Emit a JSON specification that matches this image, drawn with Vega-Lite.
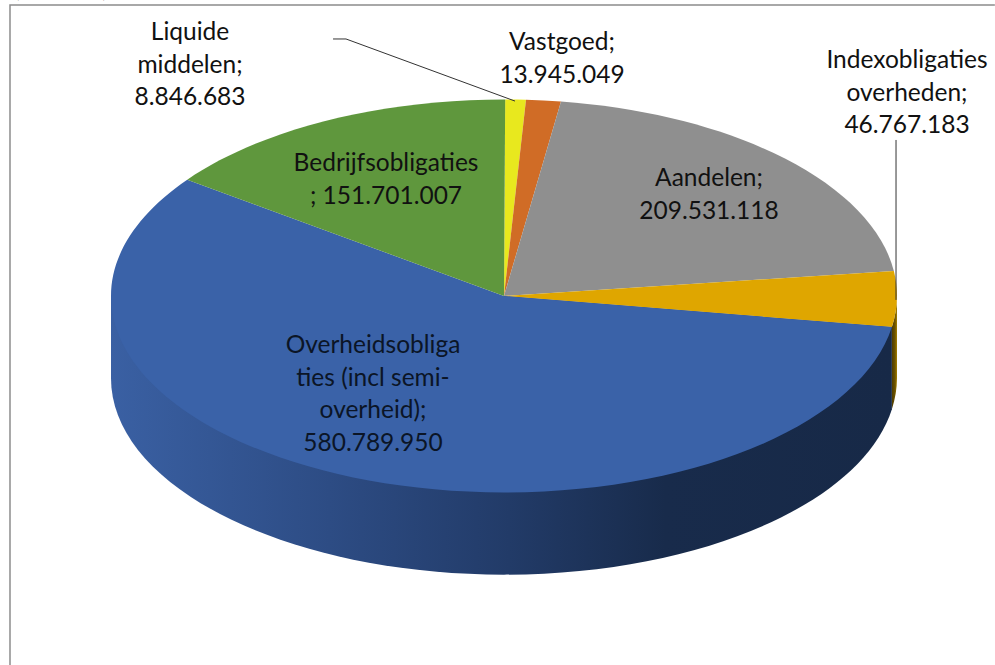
{
"$schema":"https://vega.github.io/schema/vega-lite/v6.json",
"width":786,"height":392,
"autosize":{"type":"none"},
"padding":{"left":111,"top":100,"right":98,"bottom":173},
"background":"white",
"view":{"stroke":null},
"data":{"values":[
{"categorie":"Liquide middelen","waarde":8846683,"label":"Liquide\nmiddelen;\n8.846.683"},
{"categorie":"Vastgoed","waarde":13945049,"label":"Vastgoed;\n13.945.049"},
{"categorie":"Aandelen","waarde":209531118,"label":"Aandelen;\n209.531.118"},
{"categorie":"Indexobligaties overheden","waarde":46767183,"label":"Indexobligaties\noverheden;\n46.767.183"},
{"categorie":"Overheidsobligaties (incl semi-overheid)","waarde":580789950,"label":"Overheidsobliga\nties (incl semi-\noverheid);\n580.789.950"},
{"categorie":"Bedrijfsobligaties","waarde":151701007,"label":"Bedrijfsobligaties\n; 151.701.007"}
]},
"layer":[
{"transform":[{"filter":"datum.categorie==='Liquide middelen'"}],
 "mark":{"type":"point","shape":"M-1.257 .939L-1.257 -.7405L1.249 -.7405","size":617796,"filled":false,"stroke":"#8c8c8c","strokeWidth":1.5,"opacity":1},"encoding":{}},
{"transform":[{"filter":"datum.categorie==='Liquide middelen'"}],
 "mark":{"type":"text","text":"(","font":"Lato","fontSize":24,"color":"#111111","align":"center","baseline":"alphabetic","dx":-487,"dy":-299},"encoding":{}},
{"transform":[{"filter":"datum.categorie==='Liquide middelen'"}],
 "mark":{"type":"text","text":")","font":"Lato","fontSize":24,"color":"#111111","align":"center","baseline":"alphabetic","dx":-399,"dy":-299},"encoding":{}},
{"transform":[{"filter":"datum.categorie==='Indexobligaties overheden'"}],
 "mark":{"type":"point","shape":"M1 0L1 .209A1 .5 0 0 1 .987 .288L.987 .0791A1 .5 0 0 0 1 0Z","size":617796,"filled":true,"strokeWidth":0,"opacity":1,
 "fill":{"gradient":"linear","x1":0,"y1":0,"x2":1,"y2":0,"stops":[{"offset":0,"color":"#4d3b00"},{"offset":0.6,"color":"#6b5200"},{"offset":1,"color":"#a58000"}]}},"encoding":{}},
{"transform":[{"filter":"datum.categorie==='Overheidsobligaties (incl semi-overheid)'"}],
 "mark":{"type":"point","shape":"M-1 0L-1 .209A1 .5 0 0 0 0 .709A1 .5 0 0 0 .987 .288L.987 .0791L0 0Z","size":617796,"filled":true,"strokeWidth":0,"opacity":1,
 "fill":{"gradient":"linear","x1":0,"y1":0,"x2":1,"y2":0,"stops":[{"offset":0,"color":"#3a60a3"},{"offset":0.28,"color":"#2d4c84"},{"offset":0.51,"color":"#223b68"},{"offset":0.71,"color":"#182b4b"},{"offset":1,"color":"#172947"}]}},"encoding":{}},
{"mark":{"type":"point","size":617796,"filled":true,"strokeWidth":0,"opacity":1},
 "encoding":{
  "shape":{"field":"categorie","type":"nominal","legend":null,"scale":{
    "domain":["Liquide middelen","Vastgoed","Aandelen","Indexobligaties overheden","Overheidsobligaties (incl semi-overheid)","Bedrijfsobligaties"],
    "range":["M0 0L.003 -.5A1 .5 0 0 1 .056 -.4992Z","M0 0L.056 -.4992A1 .5 0 0 1 .145 -.4947Z","M0 0L.145 -.4947A1 .5 0 0 1 .992 -.0638Z","M0 0L.992 -.0638A1 .5 0 0 1 .987 .0791Z","M0 0L.987 .0791A1 .5 0 0 1 0 .5A1 .5 0 0 1 -1 0A1 .5 0 0 1 -.806 -.296Z","M0 0L-.806 -.296A1 .5 0 0 1 .003 -.5Z"]}},
  "color":{"field":"categorie","type":"nominal","legend":null,"scale":{
    "domain":["Liquide middelen","Vastgoed","Aandelen","Indexobligaties overheden","Overheidsobligaties (incl semi-overheid)","Bedrijfsobligaties"],
    "range":["#e8e81e","#d06c26","#8f8f8f","#dfa600","#3a62a8","#5f973d"]}}
 }},
{"transform":[{"filter":"datum.categorie==='Liquide middelen'"}],
 "mark":{"type":"point","shape":"M-.435 -.654L-.402 -.654L.028 -.496","size":617796,"filled":false,"stroke":"#333333","strokeWidth":1,"opacity":1},"encoding":{}},
{"transform":[{"filter":"datum.categorie==='Indexobligaties overheden'"}],
 "mark":{"type":"point","shape":"M.9975 -.397L.9975 .01","size":617796,"filled":false,"stroke":"#333333","strokeWidth":1,"opacity":1},"encoding":{}},
{"transform":[{"filter":"datum.categorie==='Liquide middelen'"}],
 "mark":{"type":"text","font":"Lato","fontSize":24.5,"color":"#111111","lineBreak":"\n","lineHeight":32.5,"align":"center","baseline":"alphabetic","dx":-314,"dy":-256},"encoding":{"text":{"field":"label"}}},
{"transform":[{"filter":"datum.categorie==='Vastgoed'"}],
 "mark":{"type":"text","font":"Lato","fontSize":24.5,"color":"#111111","lineBreak":"\n","lineHeight":32.5,"align":"center","baseline":"alphabetic","dx":58,"dy":-246},"encoding":{"text":{"field":"label"}}},
{"transform":[{"filter":"datum.categorie==='Aandelen'"}],
 "mark":{"type":"text","font":"Lato","fontSize":24.5,"color":"#111111","lineBreak":"\n","lineHeight":32.5,"align":"center","baseline":"alphabetic","dx":205,"dy":-110},"encoding":{"text":{"field":"label"}}},
{"transform":[{"filter":"datum.categorie==='Indexobligaties overheden'"}],
 "mark":{"type":"text","font":"Lato","fontSize":24.5,"color":"#111111","lineBreak":"\n","lineHeight":32.5,"align":"center","baseline":"alphabetic","dx":403,"dy":-228},"encoding":{"text":{"field":"label"}}},
{"transform":[{"filter":"datum.categorie==='Overheidsobligaties (incl semi-overheid)'"}],
 "mark":{"type":"text","font":"Lato","fontSize":24.5,"color":"#0b1526","lineBreak":"\n","lineHeight":32.5,"align":"center","baseline":"alphabetic","dx":-131,"dy":57},"encoding":{"text":{"field":"label"}}},
{"transform":[{"filter":"datum.categorie==='Bedrijfsobligaties'"}],
 "mark":{"type":"text","font":"Lato","fontSize":24.5,"color":"#111111","lineBreak":"\n","lineHeight":32.5,"align":"center","baseline":"alphabetic","dx":-118,"dy":-125},"encoding":{"text":{"field":"label"}}}
]
}
